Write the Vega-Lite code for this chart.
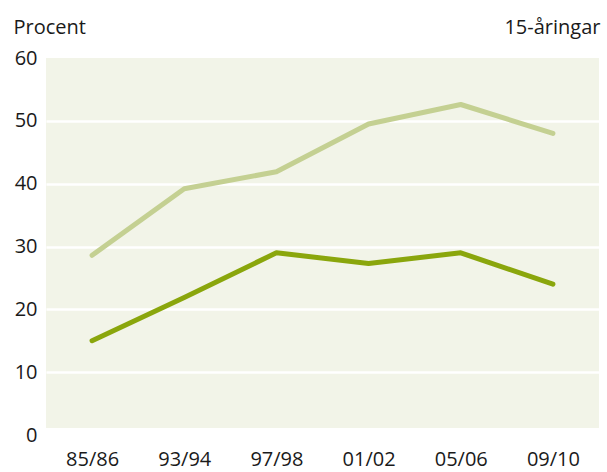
{
  "$schema": "https://vega.github.io/schema/vega-lite/v6.json",
  "width": 553,
  "height": 377,
  "autosize": {"type": "none"},
  "padding": {"left": 46, "top": 58, "right": 8, "bottom": 37},
  "background": "white",
  "config": {
    "view": {"stroke": null, "fill": "#f2f4e8"},
    "font": "Open Sans"
  },
  "resolve": {"axis": {"y": "independent"}},
  "data": {
    "values": [
      {"period": "85/86", "serie": "A", "value": 28.6},
      {"period": "93/94", "serie": "A", "value": 39.2},
      {"period": "97/98", "serie": "A", "value": 41.9},
      {"period": "01/02", "serie": "A", "value": 49.5},
      {"period": "05/06", "serie": "A", "value": 52.6},
      {"period": "09/10", "serie": "A", "value": 48.0},
      {"period": "85/86", "serie": "B", "value": 15.0},
      {"period": "93/94", "serie": "B", "value": 21.9},
      {"period": "97/98", "serie": "B", "value": 29.0},
      {"period": "01/02", "serie": "B", "value": 27.3},
      {"period": "05/06", "serie": "B", "value": 29.0},
      {"period": "09/10", "serie": "B", "value": 24.0}
    ]
  },
  "layer": [
    {
      "mark": {"type": "line", "strokeWidth": 5, "strokeCap": "round", "strokeJoin": "round"},
      "encoding": {
        "x": {
          "field": "period",
          "type": "ordinal",
          "sort": null,
          "scale": {"type": "point", "padding": 0.5},
          "axis": {
            "title": null,
            "labelAngle": 0,
            "labelFontSize": 20,
            "labelColor": "#1a1a1a",
            "labelPadding": 14,
            "ticks": false,
            "domain": false,
            "grid": false
          }
        },
        "y": {
          "field": "value",
          "type": "quantitative",
          "scale": {"domain": [0, 60], "nice": false},
          "axis": {
            "orient": "left",
            "values": [0, 10, 20, 30, 40, 50, 60],
            "title": "Procent",
            "titleAngle": 0,
            "titleAlign": "left",
            "titleBaseline": "alphabetic",
            "titleX": -33,
            "titleY": -25,
            "titleFontSize": 20,
            "titleFontWeight": "normal",
            "titleColor": "#1a1a1a",
            "labelFontSize": 20,
            "labelColor": "#1a1a1a",
            "labelPadding": 9,
            "ticks": false,
            "domain": false,
            "grid": true,
            "gridColor": "white",
            "gridWidth": 2.5,
            "gridOpacity": {"condition": {"test": "datum.value === 0 || datum.value === 60", "value": 0}, "value": 1}
          }
        },
        "color": {
          "field": "serie",
          "type": "nominal",
          "scale": {"domain": ["A", "B"], "range": ["#c4d092", "#8aa60c"]},
          "legend": null
        }
      }
    },
    {
      "mark": {"type": "rect", "fill": "white"},
      "encoding": {
        "y": {
          "datum": 0,
          "type": "quantitative",
          "scale": {"domain": [0, 60], "nice": false},
          "axis": {
            "orient": "right",
            "labels": false,
            "ticks": false,
            "domain": false,
            "grid": false,
            "title": "15-åringar",
            "titleAngle": 0,
            "titleAlign": "right",
            "titleBaseline": "alphabetic",
            "titleX": 1,
            "titleY": -25,
            "titleFontSize": 20,
            "titleFontWeight": "normal",
            "titleColor": "#1a1a1a"
          }
        },
        "y2": {"datum": 1.03}
      }
    }
  ]
}
